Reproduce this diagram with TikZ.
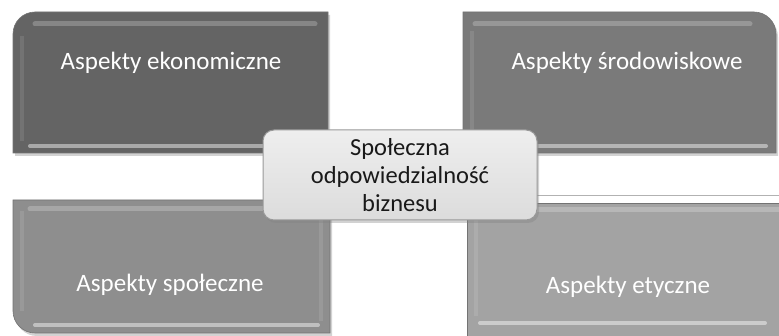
\documentclass[tikz,border=0pt]{standalone}
\usepackage{fontspec}
\setmainfont{Carlito}
\usetikzlibrary{shadows,calc}
\definecolor{cA}{HTML}{646464}
\definecolor{cB}{HTML}{7A7A7A}
\definecolor{cC}{HTML}{8E8E8E}
\definecolor{cD}{HTML}{A3A3A3}
\definecolor{cCenterTop}{HTML}{EEEEEE}
\definecolor{cCenterBot}{HTML}{DCDCDC}
\tikzset{
  x=1pt,y=1pt,
  boxshape/.style={draw=black!55, line width=0.6pt,
     drop shadow={shadow xshift=2pt, shadow yshift=-3pt, opacity=0.35}},
  bevtop/.style={white, opacity=0.22, line width=5pt, line cap=round},
  bevbot/.style={white, opacity=0.45, line width=4pt, line cap=round},
  bevside/.style={white, opacity=0.10, line width=4pt},
  boxtext/.style={text=white, font=\fontsize{25}{30}\selectfont, inner sep=0pt},
  centertext/.style={text=black!90, font=\fontsize{24.5}{28}\selectfont, align=center, inner sep=0pt},
}
\begin{document}
\begin{tikzpicture}
\useasboundingbox (0,0) rectangle (779,336);
\fill[white] (0,0) rectangle (779,336);
% thin line behind
\draw[black!30, line width=0.8pt] (537,141) -- (779,141);
% Top-left box (rounded top-left)
\path[boxshape, fill=cA] (13,183) -- (13,302) arc[start angle=180,end angle=90,radius=22] -- (328,324) -- (328,183) -- cycle;
\draw[bevtop] (35,312) -- (315,312);
\draw[bevbot] (30,190) -- (318,190);
\draw[bevside] (22,195) -- (22,300);
% Top-right box (rounded top-right)
\path[boxshape, fill=cB] (463,183) -- (463,324) -- (754,324) arc[start angle=90,end angle=0,radius=22] -- (776,183) -- cycle;
\draw[bevtop] (475,312) -- (750,312);
\draw[bevbot] (475,190) -- (766,190);
\draw[bevside] (472,195) -- (472,305);
% Bottom-left box (rounded bottom-left)
\path[boxshape, fill=cC] (13,136) -- (330,136) -- (330,3) -- (35,3) arc[start angle=270,end angle=180,radius=22] -- cycle;
\draw[bevtop] (30,127) -- (318,127);
\draw[bevbot] (35,11) -- (318,11);
\draw[bevside] (22,25) -- (22,125);
\draw[bevside] (321,15) -- (321,125);
% Bottom-right box (rounded bottom-right, clipped)
\path[boxshape, fill=cD] (467,133) -- (784,133) -- (784,-5) -- (467,-5) -- cycle;
\draw[bevtop] (480,126) -- (779,126);
\draw[bevbot] (480,13) -- (765,13);
\draw[bevside] (476,20) -- (476,122);
% Center box
\path[draw=black!40, line width=1pt, rounded corners=11pt,
      top color=cCenterTop, bottom color=cCenterBot,
      drop shadow={shadow xshift=2pt, shadow yshift=-3pt, opacity=0.35}]
      (263,116) rectangle (537,206);
% Texts
\node[boxtext] (eko) at (171,273) {Aspekty ekonomiczne};
\node[boxtext] (sro) at (627,273) {Aspekty środowiskowe};
\node[boxtext] (spo) at (170,51) {Aspekty społeczne};
\node[boxtext] (ety) at (628,49) {Aspekty etyczne};
\node[centertext] (csr) at (400,161) {Społeczna\\odpowiedzialność\\biznesu};
\end{tikzpicture}
\end{document}
